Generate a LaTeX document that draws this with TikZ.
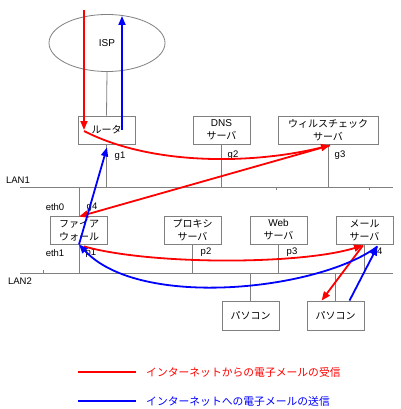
\documentclass[tikz,border=0pt]{standalone}
\usepackage{fontspec}
\setmainfont{Liberation Sans}
\newfontfamily\jp{Noto Sans CJK JP}
\usetikzlibrary{arrows.meta,shapes.geometric}
\definecolor{boxgray}{RGB}{128,128,128}
\definecolor{inred}{RGB}{255,0,0}
\definecolor{outblue}{RGB}{0,0,255}
\begin{document}
\begin{tikzpicture}[x=1pt,y=-1pt,
  box/.style={draw=boxgray, line width=0.8pt, fill=white, minimum width=57pt, minimum height=28pt, inner sep=0pt, align=center, font=\fontsize{10}{13}\selectfont},
  wire/.style={draw=boxgray, line width=0.8pt},
  lbl/.style={font=\fontsize{9.5}{11}\selectfont, inner sep=0pt},
  inarr/.style={draw=inred, line width=1.8pt, -{Triangle[length=9pt,width=7pt]}},
  outarr/.style={draw=outblue, line width=1.8pt, -{Triangle[length=9pt,width=7pt]}},
  legtext/.style={anchor=west, inner sep=0pt, font=\jp\fontsize{10.8}{12}\selectfont}]
\fill[white] (0,0) rectangle (400,409);
\useasboundingbox (0,0) rectangle (400,409);

% LAN backbones
\coordinate (lan1L) at (20,187);
\coordinate (lan1R) at (393,187);
\coordinate (lan2L) at (20,273);
\coordinate (lan2R) at (393,273);
\draw[wire] (lan1L) -- (lan1R);
\draw[wire] (lan2L) -- (lan2R);
\coordinate (t1a) at (276,187); \coordinate (t1b) at (276,190);
\coordinate (t2a) at (369,187); \coordinate (t2b) at (369,190);
\coordinate (t3a) at (43,273); \coordinate (t3b) at (43,270);
\draw[wire] (t1a) -- (t1b);
\draw[wire] (t2a) -- (t2b);
\draw[wire] (t3a) -- (t3b);
\node[lbl] (lan1) at (18,180) {LAN1};
\node[lbl] (lan2) at (20,281) {LAN2};

% ISP
\node[ellipse, draw=boxgray, line width=0.8pt, minimum width=116pt, minimum height=57pt, inner sep=0pt, font=\fontsize{10}{12}\selectfont] (isp) at (107,43) {ISP};

% boxes
\node[box] (router) at (106.5,130) {\jp ルータ};
\node[box] (dns) at (221.5,130) {DNS\\{\jp サーバ}};
\node[box, minimum width=100pt] (virus) at (328,130) {{\jp ウィルスチェック}\\{\jp サーバ}};
\node[box] (fw) at (79,230) {{\jp ファイア}\\{\jp ウォール}};
\node[box] (proxy) at (192.5,230) {{\jp プロキシ}\\{\jp サーバ}};
\node[box] (web) at (278.5,230) {Web\\{\jp サーバ}};
\node[box] (mail) at (364.5,230) {{\jp メール}\\{\jp サーバ}};
\node[box, minimum height=29pt] (pc1) at (250.5,315.5) {\jp パソコン};
\node[box, minimum height=29pt] (pc2) at (335.5,315.5) {\jp パソコン};

% wires
\draw[wire] (isp.south) -- (router.north);
\draw[wire] (router.south) -- (router.south |- lan1L);
\draw[wire] (dns.south) -- (dns.south |- lan1L);
\draw[wire] (virus.south) -- (virus.south |- lan1L);
\draw[wire] (fw.north) -- (fw.north |- lan1L);
\draw[wire] (fw.south) -- (fw.south |- lan2L);
\draw[wire] (proxy.south) -- (proxy.south |- lan2L);
\draw[wire] (web.south) -- (web.south |- lan2L);
\draw[wire] (mail.south) -- (mail.south |- lan2L);
\draw[wire] (pc1.north) -- (pc1.north |- lan2L);
\draw[wire] (pc2.north) -- (pc2.north |- lan2L);

% port labels
\node[lbl] (g1) at (120,156) {g1};
\node[lbl] (g2) at (233,155) {g2};
\node[lbl] (g3) at (340,155) {g3};
\node[lbl] (g4) at (92,207) {g4};
\node[lbl] (eth0) at (55,207) {eth0};
\node[lbl] (eth1) at (55,253) {eth1};
\node[lbl] (p1) at (91,253) {p1};
\node[lbl] (p2) at (206,252) {p2};
\node[lbl] (p3) at (292,252) {p3};
\node[lbl] (p4) at (377,252) {p4};

% red: incoming mail
\coordinate (rtop) at (84,10);
\coordinate (rrouter) at ([xshift=-22.5pt]router.center);
\coordinate (rvirus) at ([xshift=2pt,yshift=-1pt]virus.south);
\coordinate (rfwb) at ([xshift=5pt,yshift=-2pt]fw.south);
\coordinate (rmail) at ([xshift=-1.5pt,yshift=-1pt]mail.south);
\coordinate (rpc) at ([xshift=15pt]pc2.north west);
\draw[inarr] (rtop) -- (rrouter);
\draw[inarr] ([yshift=-1pt]rrouter) .. controls (150,165) and (250,165) .. (rvirus);
\draw[inarr] (rvirus) -- ([yshift=-1pt]fw.north);
\draw[inarr] (rfwb) .. controls (150,265) and (300,265) .. (rmail);
\draw[inarr] (rmail) -- (rpc);

% blue: outgoing mail
\coordinate (bpc) at ([xshift=14pt]pc2.north);
\coordinate (bmail) at ([xshift=13pt,yshift=-2pt]mail.south);
\coordinate (bfw) at (fw.south);
\coordinate (brouter) at ([xshift=0.5pt,yshift=-3pt]router.south);
\coordinate (brouterc) at ([xshift=15.5pt]router.center);
\coordinate (btop) at (122,16);
\draw[outarr] (bpc) -- (bmail);
\draw[outarr] (bmail) .. controls (320,290) and (140,310) .. (bfw);
\draw[outarr] (bfw) -- (brouter);
\draw[outarr] (brouterc) -- (btop);

% legend
\coordinate (l1a) at (78,372); \coordinate (l1b) at (136,372);
\coordinate (l2a) at (78,401); \coordinate (l2b) at (136,401);
\draw[draw=inred, line width=1.8pt] (l1a) -- (l1b);
\draw[draw=outblue, line width=1.8pt] (l2a) -- (l2b);
\node[legtext, text=inred] (leg1) at (146,372) {インターネットからの電子メールの受信};
\node[legtext, text=outblue] (leg2) at (146,401) {インターネットへの電子メールの送信};
\end{tikzpicture}
\end{document}
